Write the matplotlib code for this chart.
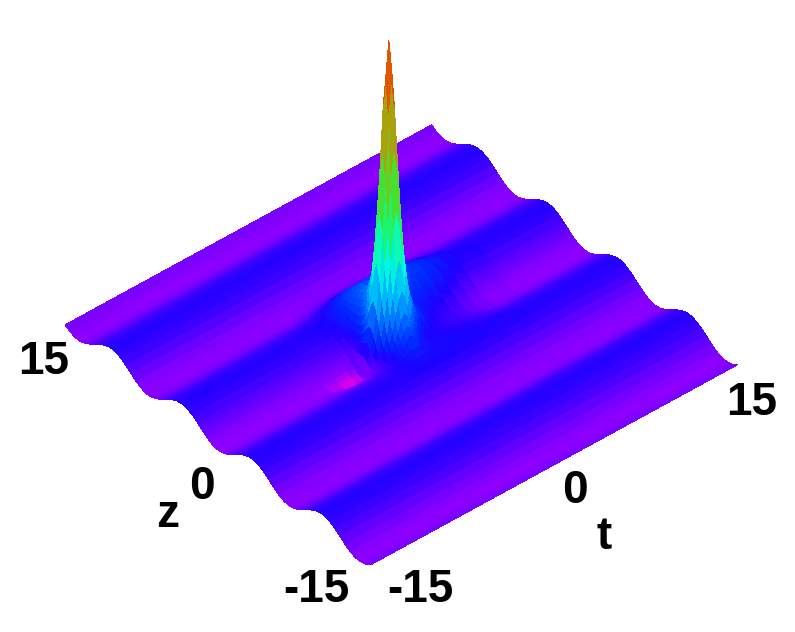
import numpy as np
import matplotlib
matplotlib.use("Agg")
from matplotlib import pyplot as plt
from matplotlib.colors import LinearSegmentedColormap, Normalize

# grid, denser around the spike
t_vals = [-15, -13, -11, -9, -8, -7, -6, -5, -4.5, -4, -3.5, -3, -2.75, -2.5, -2.25, -2, -1.75, -1.5, -1.25, -1,
          -.75, -.5, -.25, 0, .25, .5, .75, 1, 1.5, 2, 2.5, 3, 4, 5, 6, 7, 9, 11, 13, 15]
z_half = [0, .25, .5, .75, 1, 1.25, 1.5, 1.75, 2, 2.5, 3, 3.5, 4, 4.5, 5, 5.5, 6, 6.5, 7, 7.5, 8, 8.5, 9, 9.5,
          10, 10.5, 11, 11.5, 12, 12.5, 13, 13.5, 14, 14.5, 15]

ripple_half = [0, .07, .29, .63, 1.10, 1.67, 2.27, 2.90, 3.55, 4.70, 5.46, 5.70, 5.35, 4.49, 3.30, 2.02, .91, .19,
               .01, .44, 1.31, 2.56, 3.82, 4.90, 5.56, 5.67, 5.18, 4.27, 3.05, 1.77, .68, .09, .06, .57, 1.54]

# narrow spike
spike_height = 94
spike_t = [0, 0, 0, 0, 0, 0, 0, 0, .002, .006, .015, .05, .08, .12, .19, .3, .46, .66, .88, 1,
           .88, .66, .46, .3, .2, .13, .09, .06, .03, .012, .004, 0, 0, 0, 0, 0, 0, 0, 0, 0]
spike_half = [1, .88, .66, .46, .3, .2, .13, .09, .06, .03, .012, .004] + [0] * 23

# wide blue hump behind the spike
hump_height = 9
hump_t = [0, 0, 0, 0, 0, 0, .01, .02, .03, .05, .1, .2, .3, .4, .5, .6, .7, .8, .9, .95,
          1, 1, 1, 1, 1, 1, 1, .98, .95, .9, .85, .8, .65, .45, .25, .1, 0, 0, 0, 0]
hump_z = [0] * 21 + [.02, .04, .08, .13, .2, .29, .34, .4, .46, .52, .58, .65, .71, .77, .82, .86, .9, .93, .96, 1,
                     .99, .97, .93, .86, .77, .65, .52, .4, .29, .2, .12, .07, .03, .01] + [0] * 14

# magenta dip in front of the spike
dip_depth = 2.5
dip_t = [0, 0, 0, 0, 0, 0, .1, .5, .75, .9, 1, .9, .7, .5, .3, .1] + [0] * 24
dip_z = [0] * 26 + [0, 0, .1, .25, .45, .7, .9, 1, .9, .7, .4, .2, .1] + [0] * 30

# height to colour
color_heights = [-1.5, 0, 6, 10, 22, 35, 50, 70, 85, 100]
color_list = ["#e600e6", "#8c00ff", "#1e00ff", "#0028ff", "#00aaff", "#00ffdc", "#28f03c", "#96b414", "#dc6e00", "#e61e00"]

labels = ["15", "z", "0", "-15", "-15", "0", "t", "15"]
label_x = [44, 168, 202, 316, 420, 575, 604, 752]
label_y = [362, 515, 487, 590, 590, 491, 537, 403]

plt.rcParams["font.family"] = "Liberation Sans"

z_vals = np.array(z_half[:0:-1]) * -1
z_vals = np.concatenate([z_vals, z_half])
ripple = np.array(ripple_half[:0:-1] + ripple_half)
spike_z = np.array(spike_half[:0:-1] + spike_half)

X, Y = np.meshgrid(t_vals, z_vals)
H = ripple[:, None] + spike_height * np.outer(spike_z, spike_t) + hump_height * np.outer(hump_z, hump_t) \
    - dip_depth * np.outer(dip_z, dip_t)

vmin, vmax = color_heights[0], color_heights[-1]
stops = [(h - vmin) / (vmax - vmin) for h in color_heights]
cmap = LinearSegmentedColormap.from_list("spike", list(zip(stops, color_list)), N=1024)

fig = plt.figure(figsize=(7.95, 6.32), dpi=100)
ax = fig.add_axes([-5 / 795, 115 / 632, 1, 1], projection="3d")
ax.set_proj_type("ortho")
ax.view_init(elev=40.9, azim=-129.8)
surf = ax.plot_surface(X, Y, H, rstride=1, cstride=1, cmap=cmap, norm=Normalize(vmin, vmax),
                       linewidth=0, antialiased=False, shade=False)
surf.set_clip_on(False)
ax.set_xlim(-15, 15)
ax.set_ylim(-15, 15)
ax.set_zlim(0, 100)
ax.set_box_aspect((1, 1, 0.872), zoom=1.218)
ax.set_axis_off()

for s, x, y in zip(labels, label_x, label_y):
    fig.text(x / 795, 1 - y / 632, s, fontsize=33, fontweight="bold", ha="center", va="center", color="black")

fig.savefig("out.png", dpi=100)
